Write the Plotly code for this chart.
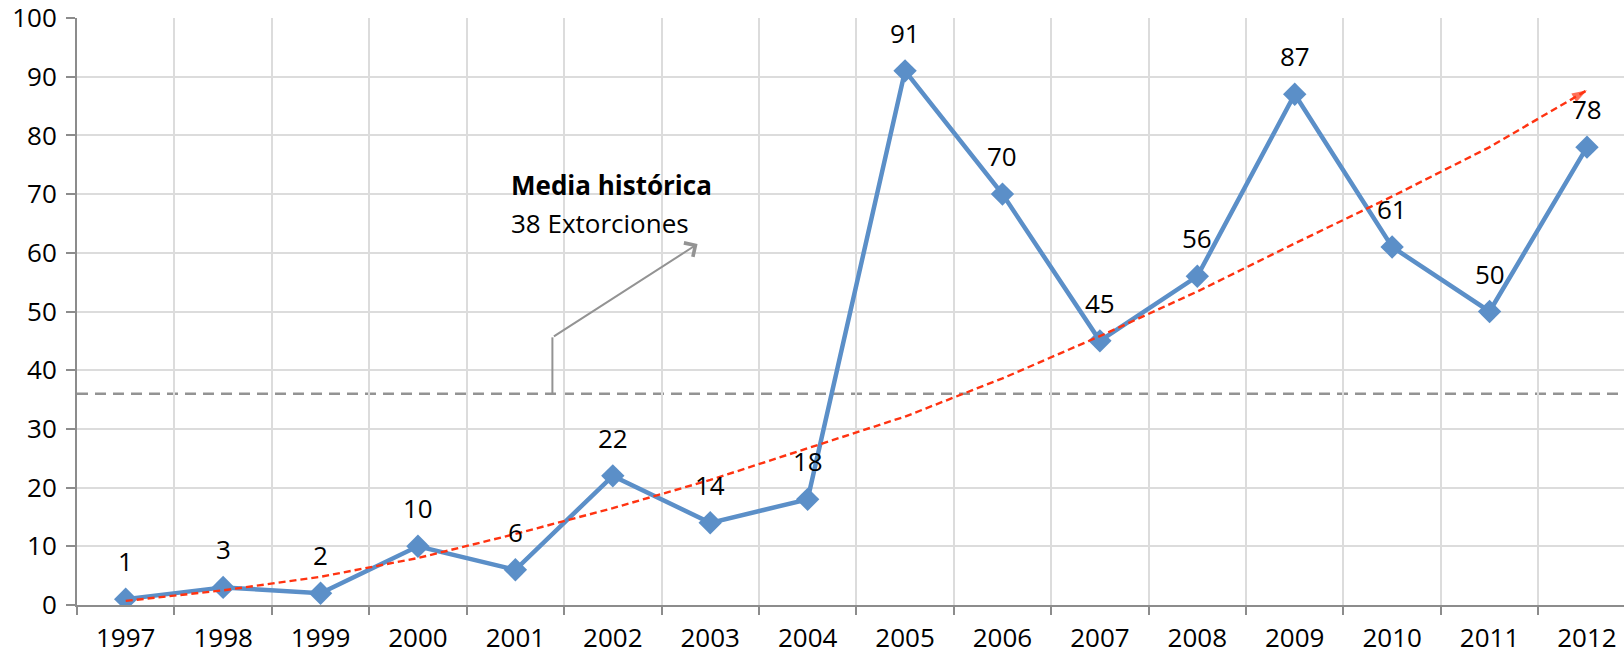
import plotly.graph_objects as go

# ---- data ----
years = [1997, 1998, 1999, 2000, 2001, 2002, 2003, 2004,
         2005, 2006, 2007, 2008, 2009, 2010, 2011, 2012]
extorsiones = [1, 3, 2, 10, 6, 22, 14, 18, 91, 70, 45, 56, 87, 61, 50, 78]
tendencia = [0.7, 2.5, 4.8, 8.0, 12.1, 16.5, 21.3, 26.7,
             32.1, 38.6, 45.8, 53.4, 61.6, 69.6, 78.0, 87.7]
media = 36
titulo_media = "Media histórica"
texto_media = "38 Extorciones"
y_ticks = list(range(0, 101, 10))

FONT = "Open Sans"
FS = 26
BLUE = "#5b8fc8"
RED = "#ff3311"
GRAY = "#939393"

fig = go.Figure()

# main series
fig.add_trace(go.Scatter(
    x=years, y=extorsiones, mode="lines+markers",
    line=dict(color=BLUE, width=4.5),
    marker=dict(symbol="diamond", size=18, color=BLUE),
    showlegend=False, hoverinfo="skip",
))

# trend line with arrow head at the end
fig.add_trace(go.Scatter(
    x=years, y=tendencia, mode="lines+markers",
    line=dict(color=RED, width=2.4, dash="7px,4px"),
    marker=dict(symbol="arrow", angleref="previous",
                size=[0] * (len(years) - 1) + [16], color=RED,
                line=dict(width=0)),
    showlegend=False, hoverinfo="skip",
))

# data labels
for x, v in zip(years, extorsiones):
    fig.add_annotation(x=x, y=v, text=str(v), showarrow=False,
                       yshift=38, font=dict(family=FONT, size=FS, color="#000"))

# mean line
fig.add_shape(type="line", xref="paper", x0=0, x1=1, y0=media, y1=media,
              line=dict(color=GRAY, width=2.5, dash="11px,7px"), layer="below")

# callout elbow arrow
elbow_x = 2001.38
elbow_y = 45.6
tip_x = 2002.87
tip_y = 61.5
fig.add_shape(type="line", x0=elbow_x, x1=elbow_x, y0=media, y1=elbow_y,
              line=dict(color=GRAY, width=2))
fig.add_annotation(x=tip_x, y=tip_y, ax=elbow_x, ay=elbow_y,
                   axref="x", ayref="y", showarrow=True, text="",
                   arrowhead=4, arrowsize=1.6, arrowwidth=2, arrowcolor=GRAY)

fig.add_annotation(x=2000.93, y=71.5, xanchor="left", yanchor="middle",
                   text="<b>" + titulo_media + "</b>", showarrow=False,
                   font=dict(family=FONT, size=FS, color="#000"))
fig.add_annotation(x=2000.93, y=65.1, xanchor="left", yanchor="middle",
                   text=texto_media, showarrow=False,
                   font=dict(family=FONT, size=FS, color="#000"))

fig.update_layout(
    width=1624, height=650,
    margin=dict(l=77, r=0, t=18, b=45, pad=0),
    paper_bgcolor="white", plot_bgcolor="white",
    font=dict(family=FONT, size=FS, color="#000"),
    xaxis=dict(
        range=[1996.5, 2012.38], tickvals=years,
        ticktext=[str(y) for y in years],
        showgrid=False, ticks="", zeroline=False, automargin=False,
        showline=True, linecolor="#8c8c8c", linewidth=2,
        ticklabelstandoff=9, ticklabeloverflow="allow",
        tickfont=dict(size=FS),
        minor=dict(tick0=1996.5, dtick=1, showgrid=True,
                   gridcolor="#dcdcdc", gridwidth=1.5,
                   ticks="outside", ticklen=8, tickcolor="#8c8c8c",
                   tickwidth=1.5),
    ),
    yaxis=dict(
        range=[0, 100], tickvals=y_ticks, automargin=False,
        showgrid=True, gridcolor="#dcdcdc", gridwidth=1.5,
        zeroline=False, showline=True, linecolor="#8c8c8c", linewidth=2,
        ticks="outside", ticklen=9, tickcolor="#8c8c8c", tickwidth=1.5,
        ticklabelstandoff=4, ticklabeloverflow="allow",
        tickfont=dict(size=FS),
    ),
)

fig.write_html("out.html",
               config={"displayModeBar": False},
               post_script="document.body.style.margin='0';"
                           "document.body.style.overflow='hidden';")
